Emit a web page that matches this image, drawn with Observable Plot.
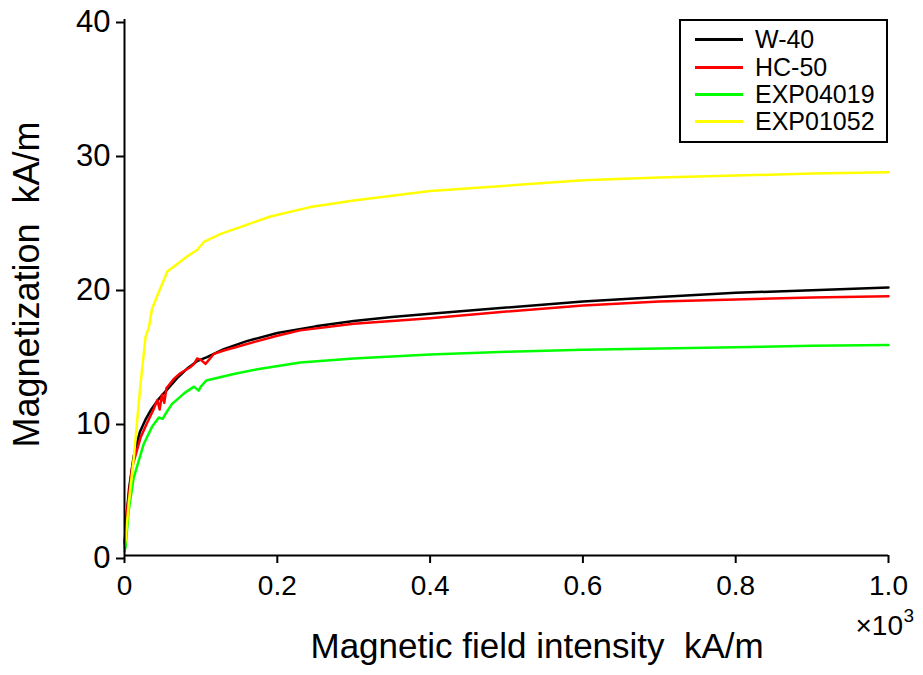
<!DOCTYPE html>
<html><head><meta charset="utf-8">
<script src="https://cdn.jsdelivr.net/npm/d3@7"></script>
<script src="https://cdn.jsdelivr.net/npm/@observablehq/plot@0.6"></script>
<style>
body{margin:0;background:#fff;font-family:"Liberation Sans",Arial,sans-serif}
#wrap{position:relative;width:923px;height:675px}
#legend{position:absolute;left:679px;top:19px;width:205px;height:120px;border:2px solid #000;background:#fff}
.row{position:absolute;left:14px;height:28px;width:190px}
.row .ln{position:absolute;left:0;top:13px;width:48px;height:2.5px}
.row .tx{position:absolute;left:60px;top:0;font-size:25px;line-height:28px;color:#000}
</style></head><body><div id="wrap"></div>
<script>
// Data (H in 10^3 kA/m, M in kA/m)
const seriesNames = ["W-40", "HC-50", "EXP04019", "EXP01052"];
const seriesColors = ["#000000", "#ff0000", "#00ff00", "#ffff00"];

const w40H = [0, 0.002, 0.006, 0.012, 0.02, 0.028, 0.035, 0.045, 0.056, 0.07, 0.082, 0.095, 0.108, 0.13, 0.16, 0.2, 0.25, 0.3, 0.35, 0.4, 0.5, 0.6, 0.7, 0.8, 0.9, 1.0];
const w40M = [0.8, 2.5, 5.0, 7.4, 9.2, 10.2, 10.9, 11.7, 12.4, 13.3, 13.95, 14.5, 14.8, 15.4, 16.0, 16.6, 17.1, 17.5, 17.8, 18.05, 18.5, 18.95, 19.3, 19.6, 19.8, 20.0];

const hc50H = [0, 0.0035, 0.01, 0.021, 0.03, 0.038, 0.043, 0.046, 0.049, 0.052, 0.055, 0.058, 0.065, 0.073, 0.086, 0.091, 0.095, 0.1, 0.106, 0.112, 0.117, 0.13, 0.143, 0.174, 0.2, 0.23, 0.3, 0.4, 0.5, 0.6, 0.7, 0.8, 0.9, 1.0];
const hc50M = [0.6, 3.4, 6.6, 8.8, 9.95, 10.9, 11.6, 10.9, 12.0, 11.4, 12.5, 12.7, 13.2, 13.6, 14.05, 14.3, 14.7, 14.6, 14.3, 14.7, 15.05, 15.3, 15.5, 16.0, 16.4, 16.8, 17.3, 17.7, 18.2, 18.65, 18.95, 19.1, 19.25, 19.35];

const exp04019H = [0, 0.0013, 0.0056, 0.012, 0.025, 0.036, 0.045, 0.05, 0.054, 0.062, 0.078, 0.091, 0.097, 0.1, 0.107, 0.132, 0.143, 0.174, 0.23, 0.3, 0.4, 0.5, 0.6, 0.7, 0.8, 0.9, 1.0];
const exp04019M = [0.3, 0.6, 3.4, 5.8, 8.3, 9.6, 10.3, 10.2, 10.6, 11.3, 12.1, 12.6, 12.3, 12.6, 13.06, 13.4, 13.55, 13.9, 14.4, 14.7, 15.0, 15.2, 15.35, 15.45, 15.55, 15.65, 15.7];

const exp01052H = [0, 0.0013, 0.0056, 0.0122, 0.021, 0.0275, 0.0318, 0.036, 0.043, 0.054, 0.056, 0.07, 0.084, 0.095, 0.104, 0.126, 0.156, 0.191, 0.243, 0.3, 0.4, 0.5, 0.6, 0.7, 0.8, 0.9, 1.0];
const exp01052M = [0.7, 1.1, 3.9, 7.3, 12.8, 16.3, 17.0, 18.4, 19.4, 20.9, 21.2, 21.8, 22.4, 22.8, 23.4, 24.0, 24.6, 25.3, 26.0, 26.5, 27.2, 27.6, 28.0, 28.2, 28.35, 28.5, 28.6];

const xTicks = [0, 0.2, 0.4, 0.6, 0.8, 1.0];
const xTickLabels = ["0", "0.2", "0.4", "0.6", "0.8", "1.0"];
const yTicks = [0, 10, 20, 30, 40];
const xTitle = "Magnetic field intensity\u00a0\u00a0kA/m";
const yTitle = "Magnetization\u00a0\u00a0kA/m";
const xMultiplier = "×10";
const xExponent = "3";

const seriesH = [w40H, hc50H, exp04019H, exp01052H];
const seriesM = [w40M, hc50M, exp04019M, exp01052M];
const tables = seriesH.map((H, i) => H.map((h, j) => ({H: h, M: seriesM[i][j], series: seriesNames[i]})));

const chart = Plot.plot({
  width: 923, height: 675,
  marginLeft: 124, marginRight: 35, marginTop: 19, marginBottom: 120,
  style: {fontFamily: '"Liberation Sans", Arial, sans-serif', background: "#fff", color: "#000"},
  x: {domain: [0, 1], axis: null},
  y: {domain: [0, 40], axis: null},
  marks: [
    ...tables.map((t, i) => Plot.line(t, {x: "H", y: "M", stroke: seriesColors[i], strokeWidth: 2.5, curve: "linear"})),
    Plot.ruleX([0], {stroke: "#000", strokeWidth: 2}),
    Plot.ruleY([0], {stroke: "#000", strokeWidth: 2}),
    Plot.axisX({ticks: xTicks, tickFormat: (d) => xTickLabels[xTicks.indexOf(d)], tickSize: 8, tickPadding: 12, fontSize: 28, strokeWidth: 2, label: null}),
    Plot.axisY({ticks: yTicks, tickSize: 8, tickPadding: 6, fontSize: 31, strokeWidth: 2, dy: 3, label: null}),
    Plot.text([xTitle], {frameAnchor: "bottom-left", dx: 186, dy: 102, textAnchor: "start", lineAnchor: "bottom", fontSize: 35}),
    Plot.text([yTitle], {frameAnchor: "top-left", dx: -97, dy: 265, rotate: -90, textAnchor: "middle", lineAnchor: "middle", fontSize: 36}),
    Plot.text([xMultiplier], {frameAnchor: "bottom-right", dx: -33, dy: 79, textAnchor: "start", lineAnchor: "bottom", fontSize: 28}),
    Plot.text([xExponent], {frameAnchor: "bottom-right", dx: 15, dy: 66, textAnchor: "start", lineAnchor: "bottom", fontSize: 19})
  ]
});

const wrap = document.getElementById("wrap");
wrap.appendChild(chart);

const legend = document.createElement("div");
legend.id = "legend";
const rowTops = [4, 32, 59, 86];
seriesNames.forEach((name, i) => {
  const row = document.createElement("div");
  row.className = "row";
  row.style.top = rowTops[i] + "px";
  const ln = document.createElement("div");
  ln.className = "ln";
  ln.style.background = seriesColors[i];
  const tx = document.createElement("div");
  tx.className = "tx";
  tx.textContent = name;
  row.appendChild(ln); row.appendChild(tx);
  legend.appendChild(row);
});
wrap.appendChild(legend);
</script></body></html>
